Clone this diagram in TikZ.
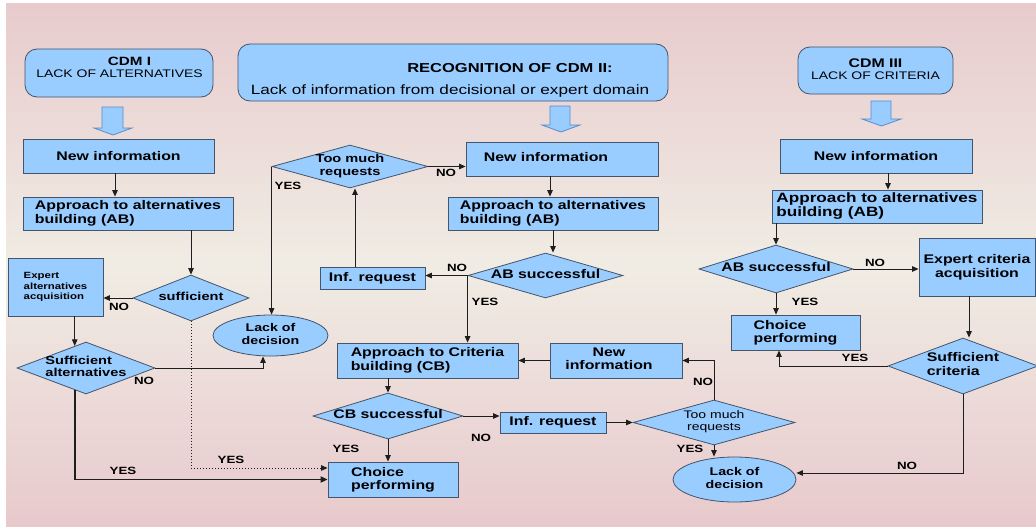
\documentclass[tikz,border=0pt]{standalone}
\usepackage{fontspec}
\setmainfont{Liberation Sans}[FakeStretch=1.27]
\usetikzlibrary{arrows.meta,shapes.geometric,calc}
\definecolor{boxblue}{HTML}{99CCFF}
\definecolor{boxline}{HTML}{44546A}
\definecolor{blkline}{HTML}{5A8CC8}
\definecolor{bgtop}{HTML}{E8CBCD}
\definecolor{bgmid}{HTML}{F0ECE4}
\definecolor{bgbot}{HTML}{E8C9CC}
\definecolor{linecol}{HTML}{1E1E1E}
\newcommand\fsz[2]{\fontsize{#1}{#2}\selectfont}
\newcommand\diac[1]{\makebox[0pt]{\begin{tabular}{@{}c@{}}#1\end{tabular}}}
\newcommand\dial[1]{\makebox[0pt]{\begin{tabular}{@{}l@{}}#1\end{tabular}}}
\begin{document}
\begin{tikzpicture}[x=1pt,y=-1pt,
  box/.style={rectangle, draw=boxline, fill=boxblue, line width=0.8pt, inner sep=0pt, font=\bfseries\fsz{12.5}{14}},
  rbox/.style={box, rounded corners=12pt},
  dia/.style={diamond, draw=boxline, fill=boxblue, line width=0.8pt, inner sep=0pt, font=\bfseries\fsz{12.5}{14}},
  ell/.style={ellipse, draw=boxline, fill=boxblue, line width=0.8pt, inner sep=0pt, font=\bfseries\fsz{11.2}{12.5}},
  txt/.style={inner sep=0pt, align=center},
  lab/.style={inner sep=0pt, font=\bfseries\fsz{10.5}{12}},
  conn/.style={draw=linecol, line width=1pt, -{Triangle[length=6.5pt,width=5.5pt]}},
  blk/.style={draw=blkline, fill=boxblue, line width=0.8pt, line join=miter}]
\useasboundingbox (0,0) rectangle (1036,527);
\fill[white] (0,0) rectangle (1036,527);
\shade[top color=bgtop, bottom color=bgbot, middle color=bgmid] (6,4) rectangle (1036,527);

% header boxes
\node[rbox, minimum width=188pt, minimum height=48pt] (cdm1) at (119,73) {};
\node[txt] (cdm1t) at (119.5,67) {\bfseries\fsz{12}{12.5}\hspace*{20pt}CDM I\\\mdseries\fsz{11}{12.5}LACK OF ALTERNATIVES};
\node[rbox, minimum width=430pt, minimum height=57pt] (cdm2) at (453,72.5) {};
\node[txt] (cdm2t) at (450,80) {\bfseries\fsz{13}{14}\hspace*{120pt}RECOGNITION OF CDM II:\\[10pt]\mdseries\fsz{13.5}{14}Lack of information from decisional or expert domain};
\node[rbox, minimum width=155pt, minimum height=47pt] (cdm3) at (875.5,70.5) {};
\node[txt] (cdm3t) at (875.5,69.5) {\bfseries\fsz{12.5}{13}CDM III\\\mdseries\fsz{11}{13}LACK OF CRITERIA};

% block arrows
\draw[blk] (102,107) -- (123,107) -- (123,128) -- (132,128) -- (113,135) -- (94,128) -- (102,128) -- cycle;
\draw[blk] (550,106) -- (570,106) -- (570,125) -- (580,125) -- (561,132) -- (542,125) -- (550,125) -- cycle;
\draw[blk] (871,101) -- (891,101) -- (891,119) -- (901,119) -- (881.5,126) -- (862,119) -- (871,119) -- cycle;

% left column
\node[box, minimum width=191pt, minimum height=34pt] (nil) at (118.5,156) {New information};
\node[box, minimum width=210pt, minimum height=33pt, align=left] (abl) at (128,213.5) {Approach to alternatives\\building (AB)};
\node[box, minimum width=95pt, minimum height=58pt, align=left, font=\bfseries\fsz{9}{10.5}] (eaa) at (55.5,287) {Expert\\alternatives\\acquisition};
\node[dia, minimum width=116pt, minimum height=46pt, font=\bfseries\fsz{11.5}{12}] (suf) at (191,298) {\diac{sufficient}};
\node[dia, minimum width=138pt, minimum height=52pt, font=\bfseries\fsz{11.5}{11.5}] (sa) at (86,368) {\dial{Sufficient\\alternatives}};
\node[ell, minimum width=115pt, minimum height=41pt] (lod1) at (270.5,335.5) {\diac{Lack of\\decision}};

% middle column
\node[dia, minimum width=156pt, minimum height=43pt, font=\bfseries\fsz{11.5}{12.5}] (tmr1) at (350,166.5) {\diac{Too much\\requests}};
\node[box, minimum width=192pt, minimum height=34pt] (nim) at (562,159) {\begin{tabular}{@{}c@{\hspace{32pt}}}New information\end{tabular}};
\node[box, minimum width=210pt, minimum height=33pt, align=left] (abm) at (553,213.5) {Approach to alternatives\\building (AB)};
\node[dia, minimum width=155pt, minimum height=45pt] (abs1) at (545.5,275.5) {\diac{AB successful}};
\node[box, minimum width=105pt, minimum height=22pt] (inf1) at (372.5,278) {Inf. request};
\node[box, minimum width=181pt, minimum height=35pt, align=left] (cb) at (427.5,360.5) {Approach to Criteria\\building (CB)};
\node[box, minimum width=132pt, minimum height=35pt] (ni2) at (616,360.5) {\begin{tabular}{@{}c@{\hspace{14pt}}}New\\[-1pt]information\end{tabular}};
\node[dia, minimum width=150pt, minimum height=46pt] (cbs) at (388,416) {\diac{CB successful}};
\node[box, minimum width=106pt, minimum height=21pt] (inf2) at (553,422.5) {Inf. request};
\node[dia, minimum width=162pt, minimum height=45pt, font=\fsz{11}{12}] (tmr2) at (714,422.5) {\diac{Too much\\requests}};
\node[box, minimum width=130pt, minimum height=35pt, align=left, font=\bfseries\fsz{12.5}{13}] (cpm) at (393,479.5) {Choice\\performing};
\node[ell, minimum width=123pt, minimum height=45pt] (lod2) at (734.5,479.5) {\diac{Lack of\\decision}};

% right column
\node[box, minimum width=192pt, minimum height=34pt] (nir) at (876,156) {New information};
\node[box, minimum width=210pt, minimum height=33pt, align=left, font=\bfseries\fsz{13.5}{14}] (abr) at (877,206.5) {Approach to alternatives\\building (AB)};
\node[dia, minimum width=154pt, minimum height=48pt] (absr) at (776,269) {\diac{AB successful}};
\node[box, minimum width=116pt, minimum height=58pt, align=center] (eca) at (977,267) {Expert criteria\\acquisition};
\node[box, minimum width=129pt, minimum height=35pt, align=left, font=\bfseries\fsz{12.5}{13}] (cpr) at (795.5,332.5) {Choice\\performing};
\node[dia, minimum width=150pt, minimum height=56pt] (sc) at (963,366) {\dial{Sufficient\\criteria}};

% connectors left
\draw[conn] ([xshift=-3.5pt]nil.south) -- ([xshift=-3.5pt]nil.south |- abl.north);
\draw[conn] (suf.north |- abl.south) -- (suf.north);
\draw[conn] (suf.west) -- (suf.west -| eaa.east);
\draw[conn, dotted] (suf.south) |- ([yshift=11.5pt]cpm.west);
\draw[conn] (eaa.south -| sa.117) -- (sa.117);
\draw[conn] (sa.east) -| ([xshift=-7.5pt]lod1.south);
\draw[conn, line width=1.8pt, -{Triangle[length=7pt,width=6pt]}] (sa.-117) |- (cpm.west);

% connectors middle
\draw[conn] (tmr1.west) -- (tmr1.west |- lod1.north);
\draw[conn] (tmr1.east) -- (tmr1.east -| nim.west);
\draw[conn] ([xshift=-12pt]nim.south) -- ([xshift=-12pt]nim.south |- abm.north);
\draw[conn] (abm.south) -- (abm.south |- abs1.north);
\draw[conn] (abs1.west) -- (abs1.west -| inf1.east);
\draw[conn] ([xshift=-17.5pt]inf1.north) -- ([xshift=-17.5pt]inf1.north |- tmr1.south);
\draw[conn] (abs1.west) -- (abs1.west |- cb.north);
\draw[conn] (ni2.west) -- (cb.east);
\draw[conn] (tmr2.north) |- (ni2.east);
\draw[conn] (cbs.north |- cb.south) -- (cbs.north);
\draw[conn] (cbs.east) -- (cbs.east -| inf2.west);
\draw[conn] (inf2.east) -- (tmr2.west);
\draw[conn] (cbs.south) -- (cbs.south |- cpm.north);
\draw[conn] (tmr2.south) -- (tmr2.south |- lod2.north);

% connectors right
\draw[conn] ([xshift=12pt]nir.south) -- ([xshift=12pt]nir.south |- abr.north);
\draw[conn] (absr.north |- abr.south) -- (absr.north);
\draw[conn] (absr.east) -- (absr.east -| eca.west);
\draw[conn] (absr.south) -- (absr.south |- cpr.north);
\draw[conn] ([xshift=-8pt]eca.south) -- ([xshift=-8pt]eca.south |- sc.north);
\draw[conn] (sc.west) -| ([xshift=-16.5pt]cpr.south);
\draw[conn] (sc.south) |- ([yshift=6.5pt]lod2.east);

% labels
\node[lab] (l1) at (119,307) {NO};
\node[lab] (l2) at (231,460) {YES};
\node[lab] (l3) at (144,381) {NO};
\node[lab] (l4) at (123,471) {YES};
\node[lab] (l5) at (288,186) {YES};
\node[lab] (l6) at (446,173) {NO};
\node[lab] (l7) at (457,268) {NO};
\node[lab] (l8) at (485,302) {YES};
\node[lab] (l9) at (481,438) {NO};
\node[lab] (l10) at (346,449) {YES};
\node[lab] (l11) at (703,382) {NO};
\node[lab] (l12) at (690,449) {YES};
\node[lab] (l13) at (875,263) {NO};
\node[lab] (l14) at (805,302) {YES};
\node[lab] (l15) at (855,358) {YES};
\node[lab] (l16) at (907,466) {NO};
\end{tikzpicture}
\end{document}
